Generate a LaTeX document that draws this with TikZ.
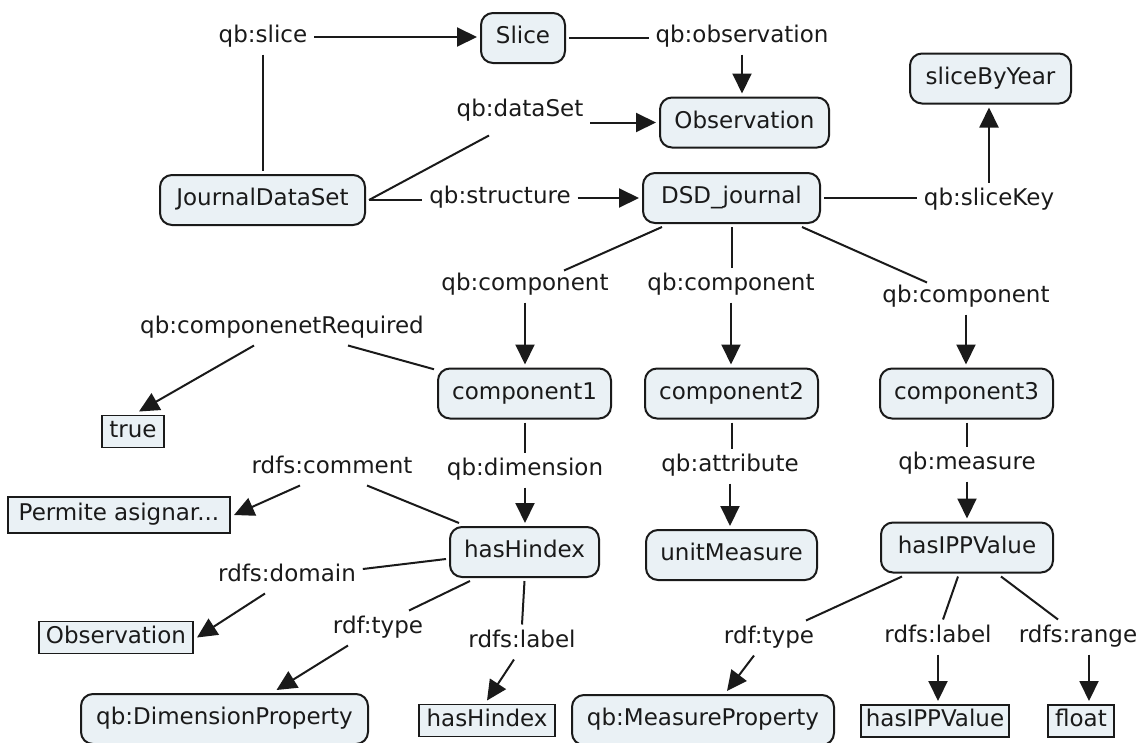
\documentclass[tikz,border=0pt]{standalone}
\usepackage{fontspec}
\setmainfont{DejaVu Sans}
\usetikzlibrary{arrows.meta}
\definecolor{boxfill}{HTML}{EAF1F5}
\definecolor{ink}{HTML}{1A1A1A}
\begin{document}
\begin{tikzpicture}[x=1pt,y=-1pt,
  every node/.style={font=\fontsize{23}{27}\selectfont, text=ink},
  concept/.style={draw=ink, line width=2pt, fill=boxfill, rounded corners=12pt,
    minimum height=50pt, inner sep=0pt, outer sep=4pt, text height=16pt, text depth=5pt},
  literal/.style={draw=ink, line width=1.8pt, fill=boxfill, minimum height=32pt,
    inner sep=0pt, outer sep=4pt, text height=16pt, text depth=5pt},
  lab/.style={inner xsep=7pt, inner ysep=7pt, text height=16pt, text depth=5pt, outer sep=0pt},
  link/.style={draw=ink, line width=2pt},
  arr/.style={link, -{Triangle[length=20pt,width=19pt]}}
]
\clip (0,0) rectangle (1145,742);

% concepts
\node[concept, minimum width=84pt]  (slice) at (523,38)    {Slice};
\node[concept, minimum width=169pt] (obs)   at (744.5,122.5) {Observation};
\node[concept, minimum width=161pt] (sby)   at (990.5,78.5)  {sliceByYear};
\node[concept, minimum width=205pt] (jds)   at (262.5,200) {JournalDataSet};
\node[concept, minimum width=177pt] (dsd)   at (731.5,198) {DSD\_journal};
\node[concept, minimum width=173pt] (c1)    at (524.5,393.5) {component1};
\node[concept, minimum width=173pt] (c2)    at (731.5,393.5) {component2};
\node[concept, minimum width=173pt] (c3)    at (966.5,393.5) {component3};
\node[concept, minimum width=149pt] (hh)    at (524.5,552) {hasHindex};
\node[concept, minimum width=171pt] (um)    at (731.5,555) {unitMeasure};
\node[concept, minimum width=172pt] (ipv)   at (967,547.5) {hasIPPValue};
\node[concept, minimum width=287pt] (dp)    at (224.5,719) {qb:DimensionProperty};
\node[concept, minimum width=262pt] (mp)    at (703,720)   {qb:MeasureProperty};

% literals
\node[literal, minimum width=62pt]  (tru) at (133,431.5) {true};
\node[literal, minimum width=222pt, minimum height=36pt] (pa) at (119,515) {Permite asignar...};
\node[literal, minimum width=154pt] (ob2) at (116,637.5) {Observation};
\node[literal, minimum width=136pt] (hhr) at (487,720.5) {hasHindex};
\node[literal, minimum width=148pt] (ipr) at (935,721)   {hasIPPValue};
\node[literal, minimum width=66pt]  (fl)  at (1081,721)  {float};

% linking phrases
\node[lab] (sl)   at (263,37)  {qb:slice};
\node[lab] (obsl) at (742,37)  {qb:observation};
\node[lab] (dsl)  at (520,111) {qb:dataSet};
\node[lab] (stl)  at (500,198) {qb:structure};
\node[lab] (skl)  at (989,200) {qb:sliceKey};
\node[lab] (c1l)  at (525,285) {qb:component};
\node[lab] (c2l)  at (731,285) {qb:component};
\node[lab] (c3l)  at (966,297) {qb:component};
\node[lab] (crl)  at (282,328) {qb:componenetRequired};
\node[lab] (dml)  at (525,470) {qb:dimension};
\node[lab] (atl)  at (730,466) {qb:attribute};
\node[lab] (msl)  at (967,464) {qb:measure};
\node[lab] (cml)  at (332,468) {rdfs:comment};
\node[lab] (dol)  at (287,576) {rdfs:domain};
\node[lab] (tyl1) at (378,628) {rdf:type};
\node[lab] (lbl1) at (522,642) {rdfs:label};
\node[lab] (tyl2) at (769,638) {rdf:type};
\node[lab] (lbl2) at (938,637) {rdfs:label};
\node[lab] (rgl)  at (1078,637) {rdfs:range};

% top row
\draw[link] (sl.south) -- (sl.south |- jds.north);
\draw[arr]  (sl.east) -- (sl.east -| slice.west);
\draw[link] (slice.east) -- (slice.east -| obsl.west);
\draw[arr]  (obsl.south) -- (obsl.south |- obs.north);
\draw[link] (jds.east) -- ([shift={(-31,7)}]dsl.south);
\draw[arr]  (dsl.east |- obs.west) -- (obs.west);
\draw[link] (jds.east) -- (jds.east -| stl.west);
\draw[arr]  (stl.east) -- (stl.east -| dsd.west);
\draw[link] (dsd.east) -- (dsd.east -| skl.west);
\draw[arr]  (skl.north) -- (skl.north |- sby.south);

% components
\draw[link] ([shift={(23,0)}]dsd.south west) -- ([shift={(39,3)}]c1l.north);
\draw[arr]  (c1l.south) -- (c1l.south |- c1.north);
\draw[link] (dsd.south) -- (dsd.south |- c2l.north);
\draw[arr]  (c2l.south) -- (c2l.south |- c2.north);
\draw[link] ([shift={(-22,0)}]dsd.south east) -- ([shift={(-39,3)}]c3l.north);
\draw[arr]  (c3l.south) -- (c3l.south |- c3.north);
\draw[link] (c1.165) -- ([shift={(66,0)}]crl.south);
\draw[arr]  ([shift={(-28,0)}]crl.south) -- ([shift={(6,0)}]tru.north);

% component1 branch
\draw[link] (c1.south) -- (c1.south |- dml.north);
\draw[arr]  (dml.south) -- (dml.south |- hh.north);
\draw[link] ([shift={(13,0)}]hh.north west) -- ([shift={(35,0)}]cml.south);
\draw[arr]  ([shift={(-32,0)}]cml.south) -- (pa.east);
\draw[link] ([shift={(0,7)}]hh.west) -- ([shift={(0,-7)}]dol.east);
\draw[arr]  ([shift={(-22,0)}]dol.south) -- (ob2.east);
\draw[link] ([shift={(24,0)}]hh.south west) -- ([shift={(31,0)}]tyl1.north);
\draw[arr]  ([shift={(-30,0)}]tyl1.south) -- ([shift={(52,0)}]dp.north);
\draw[link] (hh.south) -- (lbl1.north);
\draw[arr]  ([shift={(-8,0)}]lbl1.south) -- (hhr.north);

% component2 branch
\draw[link] (c2.south) -- (c2.south |- atl.north);
\draw[arr]  (atl.south) -- (atl.south |- um.north);

% component3 branch
\draw[link] (c3.south) -- (c3.south |- msl.north);
\draw[arr]  (msl.south) -- (msl.south |- ipv.north);
\draw[link] ([shift={(25,0)}]ipv.south west) -- ([shift={(37,0)}]tyl2.north);
\draw[arr]  ([shift={(-15,0)}]tyl2.south) -- ([shift={(24,0)}]mp.north);
\draw[link] ([shift={(-9,0)}]ipv.south) -- ([shift={(5,0)}]lbl2.north);
\draw[arr]  (lbl2.south) -- (lbl2.south |- ipr.north);
\draw[link] ([shift={(-56,0)}]ipv.south east) -- ([shift={(-20,0)}]rgl.north);
\draw[arr]  ([shift={(11,0)}]rgl.south) -- ([shift={(8,0)}]fl.north);
\end{tikzpicture}
\end{document}
